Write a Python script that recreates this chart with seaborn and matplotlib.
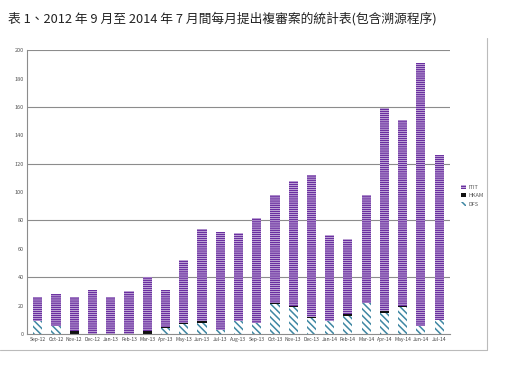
import pandas as pd
import numpy as np
import matplotlib
matplotlib.use("Agg")
import matplotlib.pyplot as plt
import seaborn as sns
from matplotlib.lines import Line2D
from matplotlib.patches import Patch

# monthly cases
months = ['Sep-12', 'Oct-12', 'Nov-12', 'Dec-12', 'Jan-13', 'Feb-13', 'Mar-13', 'Apr-13',
          'May-13', 'Jun-13', 'Jul-13', 'Aug-13', 'Sep-13', 'Oct-13', 'Nov-13', 'Dec-13',
          'Jan-14', 'Feb-14', 'Mar-14', 'Apr-14', 'May-14', 'Jun-14', 'Jul-14']
dfs = [9, 6, 0, 0, 0, 0, 0, 4, 7, 8, 3, 9, 8, 21, 19, 11, 9, 13, 22, 15, 19, 6, 10]
hkam = [0, 0, 2, 0, 0, 0, 2, 1, 1, 1, 0, 0, 0, 1, 1, 1, 0, 1, 0, 1, 1, 0, 0]
itit = [17, 22, 24, 31, 26, 30, 38, 26, 44, 65, 69, 62, 74, 76, 88, 100, 61, 53, 76, 143, 131, 185, 116]
series_names = ['ITIT', 'HKAM', 'DFS']

data = pd.DataFrame({'Month': months, 'DFS': dfs, 'HKAM': hkam, 'ITIT': itit})
data['lvl1'] = data['DFS']
data['lvl2'] = data['DFS'] + data['HKAM']
data['lvl3'] = data['lvl2'] + data['ITIT']

sns.set_style('white')
plt.rcParams['font.family'] = ['Noto Sans CJK TC', 'DejaVu Sans']
plt.rcParams['hatch.linewidth'] = 1.1

purple = '#6a2fa0'
teal = '#3f87a3'

fig = plt.figure(figsize=(5.15, 3.8), dpi=100)
ax = fig.add_axes([0.052, 0.121, 0.822, 0.747])

# stacked bars drawn top layer first, then lower layers on top of it
sns.barplot(data=data, x='Month', y='lvl3', color='white', edgecolor=purple,
            hatch='--------', width=0.5, linewidth=0, ax=ax)
sns.barplot(data=data, x='Month', y='lvl2', color='#111111', edgecolor='#111111',
            width=0.5, linewidth=0, ax=ax)
sns.barplot(data=data, x='Month', y='lvl1', color='white', edgecolor=teal,
            hatch='\\\\\\\\\\', width=0.5, linewidth=0, ax=ax)

ax.set_ylim(0, 200)
ax.set_xlim(-0.6, len(months) - 0.4)
ax.set_yticks(np.arange(0, 201, 20))
ax.set_yticklabels([str(v) for v in range(0, 201, 20)], fontsize=4, color='#555555')
ax.set_xticks(range(len(months)))
ax.set_xticklabels(months, fontsize=3.6, color='#444444')
ax.tick_params(axis='both', length=0, pad=2)
for yv in range(40, 201, 40):
    ax.axhline(yv, color='#8c8c8c', linewidth=0.8, zorder=0)
ax.set_xlabel('')
ax.set_ylabel('')
for s in ['top', 'right']:
    ax.spines[s].set_visible(False)
ax.spines['left'].set_color('#8c8c8c')
ax.spines['bottom'].set_color('#8c8c8c')
ax.spines['left'].set_linewidth(0.8)
ax.spines['bottom'].set_linewidth(0.8)

# legend
handles = [Patch(facecolor='white', edgecolor=purple, hatch='--------', linewidth=0),
           Patch(facecolor='#111111', edgecolor='#111111', linewidth=0),
           Patch(facecolor='white', edgecolor=teal, hatch='\\\\\\\\\\', linewidth=0)]
fig.legend(handles, series_names, loc='center left', bbox_to_anchor=(0.885, 0.485),
           frameon=False, fontsize=4, labelcolor='#555555', handlelength=1.0,
           handleheight=0.8, handletextpad=0.4, labelspacing=0.6)

# chart area border
fig.add_artist(Line2D([0.946, 0.946], [0.08, 0.9], color='#bbbbbb', linewidth=0.8))
fig.add_artist(Line2D([0.0, 0.946], [0.08, 0.08], color='#bbbbbb', linewidth=0.8))

fig.text(0.015, 0.952, '表 1、2012 年 9 月至 2014 年 7 月間每月提出複審案的統計表(包含溯源程序)',
         fontsize=9.2, color='#222222', ha='left', va='center')

fig.savefig('out.png', dpi=100, facecolor='white')
